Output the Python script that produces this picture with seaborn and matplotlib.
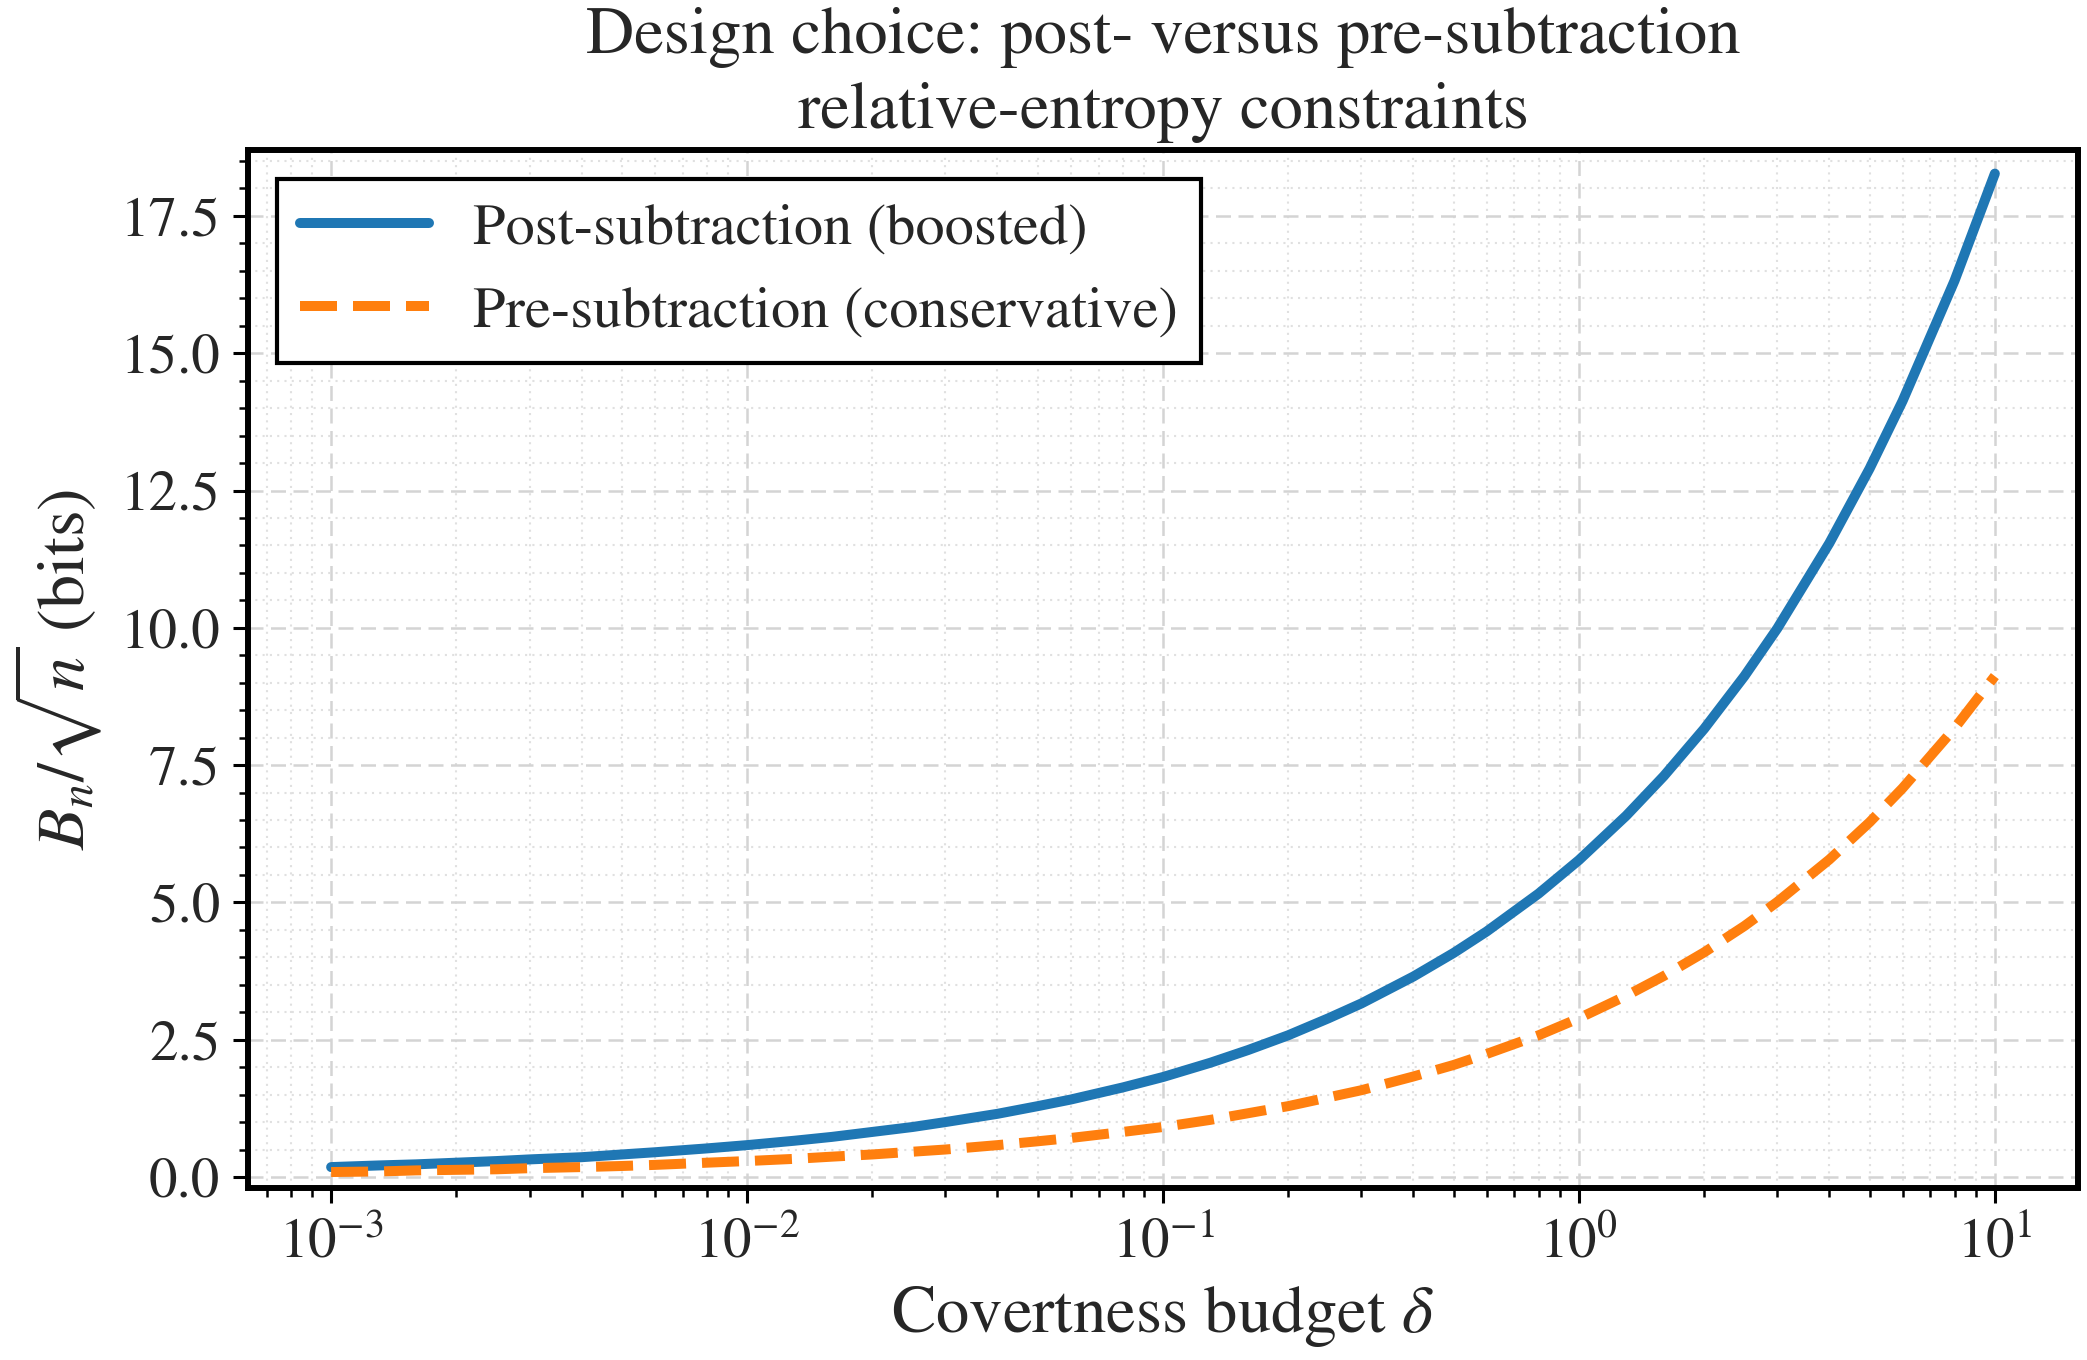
import numpy as np
import pandas as pd
import matplotlib
matplotlib.use("Agg")
import matplotlib.pyplot as plt
import seaborn as sns
from matplotlib.ticker import MultipleLocator, LogLocator, NullFormatter, FormatStrFormatter

# ---- data ----
delta = [0.001, 0.0013, 0.0016, 0.002, 0.0025, 0.003, 0.004, 0.005, 0.006, 0.008,
         0.01, 0.013, 0.016, 0.02, 0.025, 0.03, 0.04, 0.05, 0.06, 0.08,
         0.1, 0.13, 0.16, 0.2, 0.25, 0.3, 0.4, 0.5, 0.6, 0.8,
         1.0, 1.3, 1.6, 2.0, 2.5, 3.0, 4.0, 5.0, 6.0, 8.0, 10.0]
post_vals = [0.18, 0.21, 0.23, 0.26, 0.29, 0.32, 0.36, 0.41, 0.45, 0.52,
             0.58, 0.66, 0.73, 0.82, 0.91, 1.00, 1.15, 1.29, 1.41, 1.63,
             1.82, 2.08, 2.31, 2.58, 2.89, 3.16, 3.65, 4.08, 4.47, 5.16,
             5.77, 6.58, 7.30, 8.16, 9.12, 9.99, 11.54, 12.90, 14.13, 16.32, 18.27]
pre_vals = [0.09, 0.10, 0.12, 0.13, 0.14, 0.16, 0.18, 0.20, 0.22, 0.26,
            0.29, 0.33, 0.37, 0.41, 0.46, 0.50, 0.58, 0.65, 0.71, 0.82,
            0.91, 1.04, 1.16, 1.29, 1.45, 1.58, 1.83, 2.04, 2.24, 2.58,
            2.89, 3.30, 3.66, 4.09, 4.57, 5.01, 5.78, 6.46, 7.08, 8.17, 9.12]
series_labels = ["Post-subtraction (boosted)", "Pre-subtraction (conservative)"]
y_ticks = [0.0, 2.5, 5.0, 7.5, 10.0, 12.5, 15.0, 17.5]
title_text = "Design choice: post- versus pre-subtraction\nrelative-entropy constraints"
xlabel_text = r"Covertness budget $\delta$"
ylabel_text = r"$B_n/\sqrt{n}$ (bits)"

df = pd.DataFrame({
    "delta": delta * 2,
    "value": post_vals + pre_vals,
    "series": [series_labels[0]] * len(delta) + [series_labels[1]] * len(delta),
})

sns.set_style("ticks")
plt.rcParams.update({
    "font.family": ["STIXGeneral", "DejaVu Serif"],
    "mathtext.fontset": "stix",
})

fig = plt.figure(figsize=(20.87, 13.60), dpi=100)
ax = fig.add_axes([0.1188, 0.1265, 0.8769, 0.7632])

lw = 7.2
sns.lineplot(data=df[df.series == series_labels[0]], x="delta", y="value",
             color="#1f77b4", linewidth=lw, label=series_labels[0], ax=ax)
sns.lineplot(data=df[df.series == series_labels[1]], x="delta", y="value",
             color="#ff7f0e", linewidth=lw, linestyle="--",
             label=series_labels[1], ax=ax)

ax.set_xscale("log")
ax.set_ylim(-0.2, 18.7)
ax.set_yticks(y_ticks)
ax.yaxis.set_minor_locator(MultipleLocator(0.5))
ax.yaxis.set_major_formatter(FormatStrFormatter("%.1f"))
ax.xaxis.set_major_locator(LogLocator(base=10, numticks=20))
ax.xaxis.set_minor_locator(LogLocator(base=10, subs=np.arange(2, 10), numticks=20))
ax.xaxis.set_minor_formatter(NullFormatter())

ax.set_axisbelow(True)
ax.grid(True, which="major", linestyle=(0, (6, 3)), linewidth=1.8, color="#d4d4d4")
ax.grid(True, which="minor", linestyle=(0, (1, 2.5)), linewidth=1.5, color="#e0e0e0")

for sp in ax.spines.values():
    sp.set_visible(True)
    sp.set_linewidth(4.3)
    sp.set_color("black")

ax.tick_params(axis="both", which="major", length=11, width=2.2, labelsize=41,
               pad=9, color="black", direction="out")
ax.tick_params(axis="both", which="minor", length=6.5, width=1.8,
               color="black", direction="out")
ax.tick_params(axis="x", which="major", pad=10)

ax.set_xlabel(xlabel_text, fontsize=48, labelpad=10)
ax.set_ylabel(ylabel_text, fontsize=49, labelpad=12)
ax.set_title(title_text, fontsize=48, pad=16, linespacing=1.3)

leg = ax.legend(loc="upper left", fontsize=42, frameon=True, fancybox=False,
                framealpha=1.0, edgecolor="black", handlelength=2.2,
                borderaxespad=0.5, borderpad=0.4, labelspacing=0.5,
                handletextpad=0.75)
leg.get_frame().set_linewidth(3.0)

fig.savefig("out.png", dpi=100)
